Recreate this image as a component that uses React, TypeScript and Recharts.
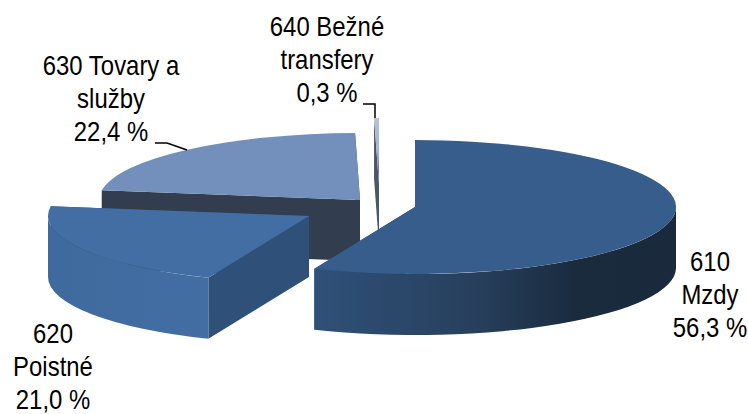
import { PieChart, Pie } from "recharts";

// categories in clockwise order, starting at 12 o'clock
const CODES = ["610", "620", "630", "640"];
const NAMES = [["610", "Mzdy"], ["620", "Poistné"], ["630 Tovary a", "služby"], ["640 Bežné", "transfery"]];
const SHARES = [56.3, 21.0, 22.4, 0.3];
const SHARE_LABELS = ["56,3 %", "21,0 %", "22,4 %", "0,3 %"];

// back slices have to be painted first, the front ones sit on top of them
const PAINT_ORDER = [2, 3, 0, 1];

const tableData = PAINT_ORDER.map((i) => ({
  code: CODES[i],
  value: SHARES[i],
  lines: [...NAMES[i], SHARE_LABELS[i]],
}));

const WIDTH = 748;
const HEIGHT = 414;
const CX = 415;
const CY = 207;
const RX = 261;
const RY = 67;
const DEPTH = 61;

const firstAngle = 90 - (SHARES[0] + SHARES[1]) * 3.6;

const EXPLODE: Record<string, [number, number]> = {
  "610": [0, 0],
  "620": [-106, 9],
  "630": [-55, -7],
  "640": [-36, -22],
};

const LOOK: Record<string, { top: string; face: string; wall: string }> = {
  "610": { top: "#365d8b", face: "#2c4c72", wall: "url(#wall610)" },
  "620": { top: "#426ea3", face: "#2f5179", wall: "url(#wall620)" },
  "630": { top: "#7290bb", face: "#323d4f", wall: "#323d4f" },
  "640": { top: "url(#top640)", face: "#4a5669", wall: "#4a5669" },
};

const LABEL_SPOT: Record<string, { x: number; y: number; leader?: string }> = {
  "610": { x: 710, y: 271 },
  "620": { x: 53, y: 343 },
  "630": { x: 111, y: 75, leader: "M155 143 L167 143 L187 150" },
  "640": { x: 327, y: 36, leader: "M363 104 L375 104 L375 118" },
};

function SliceShape(props: any) {
  const { cx, cy, startAngle, endAngle, code } = props;
  const [ox, oy] = EXPLODE[code];
  const look = LOOK[code];
  // recharts angles run counter-clockwise from east, here clockwise from north
  const from = 90 - startAngle;
  const to = 90 - endAngle;
  const pt = (t: number, drop = 0) => {
    const rad = (t * Math.PI) / 180;
    return [cx + ox + RX * Math.sin(rad), cy + oy - RY * Math.cos(rad) + drop];
  };
  const ax = cx + ox;
  const ay = cy + oy;
  const s = pt(from);
  const e = pt(to);
  const large = to - from > 180 ? 1 : 0;
  const faceOf = (p: number[]) =>
    `M${ax} ${ay} L${p[0]} ${p[1]} L${p[0]} ${p[1] + DEPTH} L${ax} ${ay + DEPTH} Z`;

  // the outer wall only shows on the front half of the ellipse
  const segs: [number, number][] = [];
  for (const k of [0, 360]) {
    const a = Math.max(from, 90 + k);
    const b = Math.min(to, 270 + k);
    if (b > a) segs.push([a, b]);
  }

  return (
    <g>
      <path d={faceOf(s)} fill={look.face} />
      <path d={faceOf(e)} fill={look.face} />
      {segs.map(([a, b]) => {
        const p = pt(a);
        const q = pt(b);
        const d =
          `M${p[0]} ${p[1]} A${RX} ${RY} 0 0 1 ${q[0]} ${q[1]} ` +
          `L${q[0]} ${q[1] + DEPTH} A${RX} ${RY} 0 0 0 ${p[0]} ${p[1] + DEPTH} Z`;
        return <path key={a} d={d} fill={look.wall} />;
      })}
      <path
        d={`M${ax} ${ay} L${s[0]} ${s[1]} A${RX} ${RY} 0 ${large} 1 ${e[0]} ${e[1]} Z`}
        fill={look.top}
      />
    </g>
  );
}

function SliceLabel(props: any) {
  const spot = LABEL_SPOT[props.code];
  return (
    <g>
      {spot.leader && <path d={spot.leader} fill="none" stroke="#000" strokeWidth={1.5} />}
      {/* the original uses a narrow face, which is not installed here */}
      <text
        transform={`translate(${spot.x} ${spot.y}) scale(0.886 1)`}
        textAnchor="middle"
        fontFamily="'Liberation Sans', sans-serif"
        fontSize={27}
        fill="#000"
      >
        {props.lines.map((line: string, i: number) => (
          <tspan key={line} x={0} y={i * 33.2}>
            {line}
          </tspan>
        ))}
      </text>
    </g>
  );
}

export default function App() {
  const sliceShape = (p: any) => <SliceShape {...p} />;
  return (
    <div style={{ position: "absolute", left: 0, top: 0, width: WIDTH, height: HEIGHT, background: "#fff" }}>
      <PieChart width={WIDTH} height={HEIGHT} margin={{ top: 0, right: 0, bottom: 0, left: 0 }}>
        <defs>
          <linearGradient id="wall610" gradientUnits="userSpaceOnUse" x1={317} y1={0} x2={676} y2={0}>
            <stop offset="0" stopColor="#2f5078" />
            <stop offset="0.45" stopColor="#273f5c" />
            <stop offset="0.72" stopColor="#1a2b3e" />
            <stop offset="1" stopColor="#1a2a3c" />
          </linearGradient>
          <linearGradient id="wall620" gradientUnits="userSpaceOnUse" x1={47} y1={0} x2={209} y2={0}>
            <stop offset="0" stopColor="#3f6a9e" />
            <stop offset="1" stopColor="#426ea3" />
          </linearGradient>
          <linearGradient id="top640" gradientUnits="userSpaceOnUse" x1={0} y1={118} x2={0} y2={185}>
            <stop offset="0" stopColor="#b4c3da" />
            <stop offset="0.5" stopColor="#a3b3cc" />
            <stop offset="1" stopColor="#4a5669" />
          </linearGradient>
        </defs>
        <Pie
          data={tableData}
          dataKey="value"
          nameKey="code"
          cx={CX}
          cy={CY}
          innerRadius={0}
          outerRadius={RX}
          startAngle={firstAngle}
          endAngle={firstAngle - 360}
          stroke="none"
          shape={sliceShape}
          inactiveShape={sliceShape}
          activeShape={sliceShape}
          label={(p: any) => <SliceLabel {...p} />}
          labelLine={false}
          isAnimationActive={false}
        />
      </PieChart>
    </div>
  );
}
